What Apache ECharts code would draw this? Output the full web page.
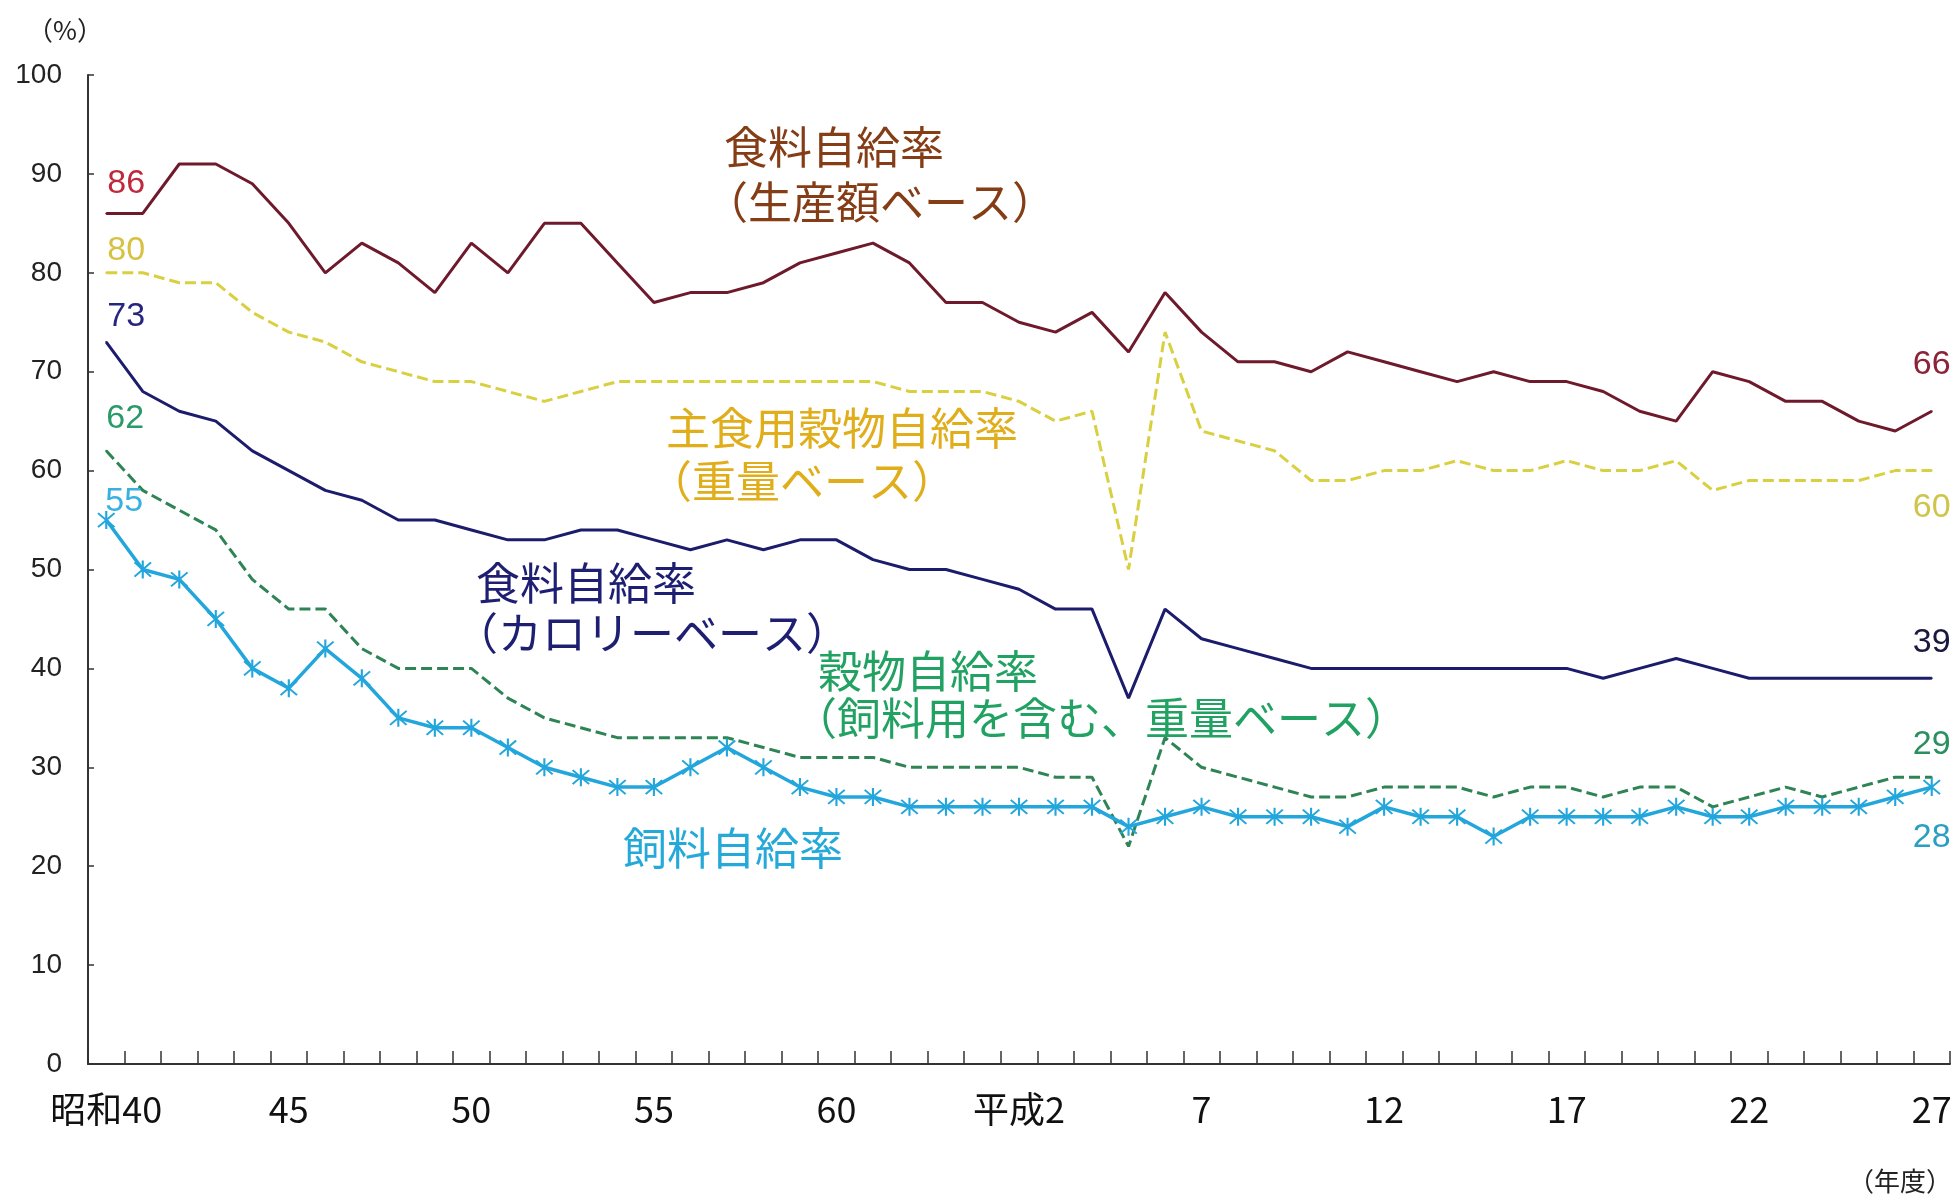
<!DOCTYPE html>
<html><head><meta charset="utf-8">
<script src="https://cdn.jsdelivr.net/npm/echarts@6/dist/echarts.min.js"></script>
<style>html,body{margin:0;padding:0;background:#fff}#c{width:1959px;height:1200px}</style>
</head><body><div id="c"></div>
<script>
// 年度ラベル（昭和40〜平成27）
const categories = ['昭和40','41','42','43','44','45','46','47','48','49','50','51','52','53','54','55','56','57','58','59','60','61','62','63','元','平成2','3','4','5','6','7','8','9','10','11','12','13','14','15','16','17','18','19','20','21','22','23','24','25','26','27'];
const yTicks = [0,10,20,30,40,50,60,70,80,90,100];

// 食料自給率（生産額ベース）
const prodValue = [86,86,91,91,89,85,80,83,81,78,83,80,85,85,81,77,78,78,79,81,82,83,81,77,77,75,74,76,72,78,74,71,71,70,72,71,70,69,70,69,69,68,66,65,70,69,67,67,65,64,66];
// 主食用穀物自給率（重量ベース）
const stapleGrain = [80,80,79,79,76,74,73,71,70,69,69,68,67,68,69,69,69,69,69,69,69,69,68,68,68,67,65,66,50,74,64,63,62,59,59,60,60,61,60,60,61,60,60,61,58,59,59,59,59,60,60];
// 食料自給率（カロリーベース）
const calorie = [73,68,66,65,62,60,58,57,55,55,54,53,53,54,54,53,52,53,52,53,53,51,50,50,49,48,46,46,37,46,43,42,41,40,40,40,40,40,40,40,40,39,40,41,40,39,39,39,39,39,39];
// 穀物自給率（飼料用を含む、重量ベース）
const grainAll = [62,58,56,54,49,46,46,42,40,40,40,37,35,34,33,33,33,33,32,31,31,31,30,30,30,30,29,29,22,33,30,29,28,27,27,28,28,28,27,28,28,27,28,28,26,27,28,27,28,29,29];
// 飼料自給率
const feed = [55,50,49,45,40,38,42,39,35,34,34,32,30,29,28,28,30,32,30,28,27,27,26,26,26,26,26,26,24,25,26,25,25,25,24,26,25,25,23,25,25,25,25,26,25,25,26,26,26,27,28];

const numFont = '"Liberation Sans Narrow","Arial Narrow","Liberation Sans",Arial,sans-serif';
const jpFont = '"Noto Sans CJK JP",sans-serif';

function withEndLabels(arr, startLab, endLab, keepSymbol) {
  const last = arr.length - 1;
  return arr.map((v, i) => {
    if (i === 0 || i === last) {
      const l = i === 0 ? startLab : endLab;
      const item = {value: v, label: {show: true, position: 'inside', offset: l.offset, color: l.color,
        fontSize: 34, fontFamily: numFont, formatter: '{c}'}};
      if (!keepSymbol) { item.symbol = 'circle'; item.symbolSize = 2; }
      return item;
    }
    return keepSymbol ? v : {value: v, symbol: 'none'};
  });
}

const asterisk = 'path://M9,0L11,0L11,20L9,20Z M1.5,2.9L2.9,1.5L18.5,17.1L17.1,18.5Z M17.1,1.5L18.5,2.9L2.9,18.5L1.5,17.1Z';

const chart = echarts.init(document.getElementById('c'));
chart.setOption({
  backgroundColor: '#fff',
  animation: false,
  grid: {left: 88, right: 9, top: 75, bottom: 136},
  xAxis: {
    type: 'category', data: categories, boundaryGap: true,
    axisLine: {lineStyle: {color: '#333', width: 2}},
    axisTick: {show: true, inside: true, length: 13, interval: 0, lineStyle: {color: '#333', width: 1.5}},
    axisLabel: {interval: 4, margin: 27, fontSize: 36, color: '#111', fontFamily: '"Noto Sans CJK JP",' + numFont},
    splitLine: {show: false}
  },
  yAxis: {
    type: 'value', min: 0, max: 100, interval: 10,
    axisLine: {show: true, lineStyle: {color: '#333', width: 2}},
    axisTick: {show: true, inside: true, length: 6, lineStyle: {color: '#333', width: 1.5}},
    axisLabel: {margin: 26, fontSize: 28, color: '#222', fontFamily: numFont,
      formatter: v => yTicks.indexOf(v) >= 0 ? String(v) : ''},
    splitLine: {show: false}
  },
  series: [
    {name: '食料自給率（生産額ベース）', type: 'line', showSymbol: true, symbol: 'none', z: 3,
     lineStyle: {color: '#6e1a2c', width: 3}, itemStyle: {color: '#6e1a2c'},
     data: withEndLabels(prodValue, {offset: [20, -30], color: '#c0283c'}, {offset: [0, -47], color: '#8a2436'})},
    {name: '主食用穀物自給率（重量ベース）', type: 'line', showSymbol: true, symbol: 'none', z: 3,
     lineStyle: {color: '#d9d041', width: 3, type: [11, 5]}, itemStyle: {color: '#d9d041'},
     data: withEndLabels(stapleGrain, {offset: [20, -22], color: '#d6c240'}, {offset: [0, 37], color: '#cfc54a'})},
    {name: '食料自給率（カロリーベース）', type: 'line', showSymbol: true, symbol: 'none', z: 3,
     lineStyle: {color: '#1c1c6c', width: 3}, itemStyle: {color: '#1c1c6c'},
     data: withEndLabels(calorie, {offset: [20, -25], color: '#262680'}, {offset: [0, -36], color: '#1a1a40'})},
    {name: '穀物自給率（飼料用を含む、重量ベース）', type: 'line', showSymbol: true, symbol: 'none', z: 3,
     lineStyle: {color: '#2e8455', width: 3, type: [11, 5]}, itemStyle: {color: '#2e8455'},
     data: withEndLabels(grainAll, {offset: [19, -32], color: '#2a9a6a'}, {offset: [0, -33], color: '#2a9060'})},
    {name: '飼料自給率', type: 'line', showSymbol: true, showAllSymbol: true, symbol: asterisk, symbolSize: 18, z: 4,
     lineStyle: {color: '#22a6dc', width: 3.5}, itemStyle: {color: '#22a6dc', borderWidth: 0},
     data: withEndLabels(feed, {offset: [18, -18], color: '#38b0e0'}, {offset: [0, 51], color: '#2aa0c0'}, true)}
  ],
  graphic: [
    {type: 'text', x: 27, y: 30, style: {text: '（%）', fill: '#222', fontSize: 26, fontFamily: jpFont, verticalAlign: 'middle'}},
    {type: 'text', x: 1848, y: 1181, style: {text: '（年度）', fill: '#222', fontSize: 26, fontFamily: jpFont, verticalAlign: 'middle'}},
    {type: 'text', x: 724, y: 147, style: {text: '食料自給率', fill: '#853d16', fontSize: 44, fontFamily: jpFont, verticalAlign: 'middle'}},
    {type: 'text', x: 704, y: 202, style: {text: '（生産額ベース）', fill: '#853d16', fontSize: 44, fontFamily: jpFont, verticalAlign: 'middle'}},
    {type: 'text', x: 666, y: 428, style: {text: '主食用穀物自給率', fill: '#e0ae1a', fontSize: 44, fontFamily: jpFont, verticalAlign: 'middle'}},
    {type: 'text', x: 648, y: 481, style: {text: '（重量ベース）', fill: '#e0ae1a', fontSize: 44, fontFamily: jpFont, verticalAlign: 'middle'}},
    {type: 'text', x: 476, y: 583, style: {text: '食料自給率', fill: '#1e1e72', fontSize: 44, fontFamily: jpFont, verticalAlign: 'middle'}},
    {type: 'text', x: 454, y: 633, style: {text: '（カロリーベース）', fill: '#1e1e72', fontSize: 44, fontFamily: jpFont, verticalAlign: 'middle'}},
    {type: 'text', x: 818, y: 671, style: {text: '穀物自給率', fill: '#22a262', fontSize: 44, fontFamily: jpFont, verticalAlign: 'middle'}},
    {type: 'text', x: 793, y: 718, style: {text: '（飼料用を含む、重量ベース）', fill: '#22a262', fontSize: 44, fontFamily: jpFont, verticalAlign: 'middle'}},
    {type: 'text', x: 623, y: 848, style: {text: '飼料自給率', fill: '#25a9d9', fontSize: 44, fontFamily: jpFont, verticalAlign: 'middle'}}
  ]
});
</script></body></html>
